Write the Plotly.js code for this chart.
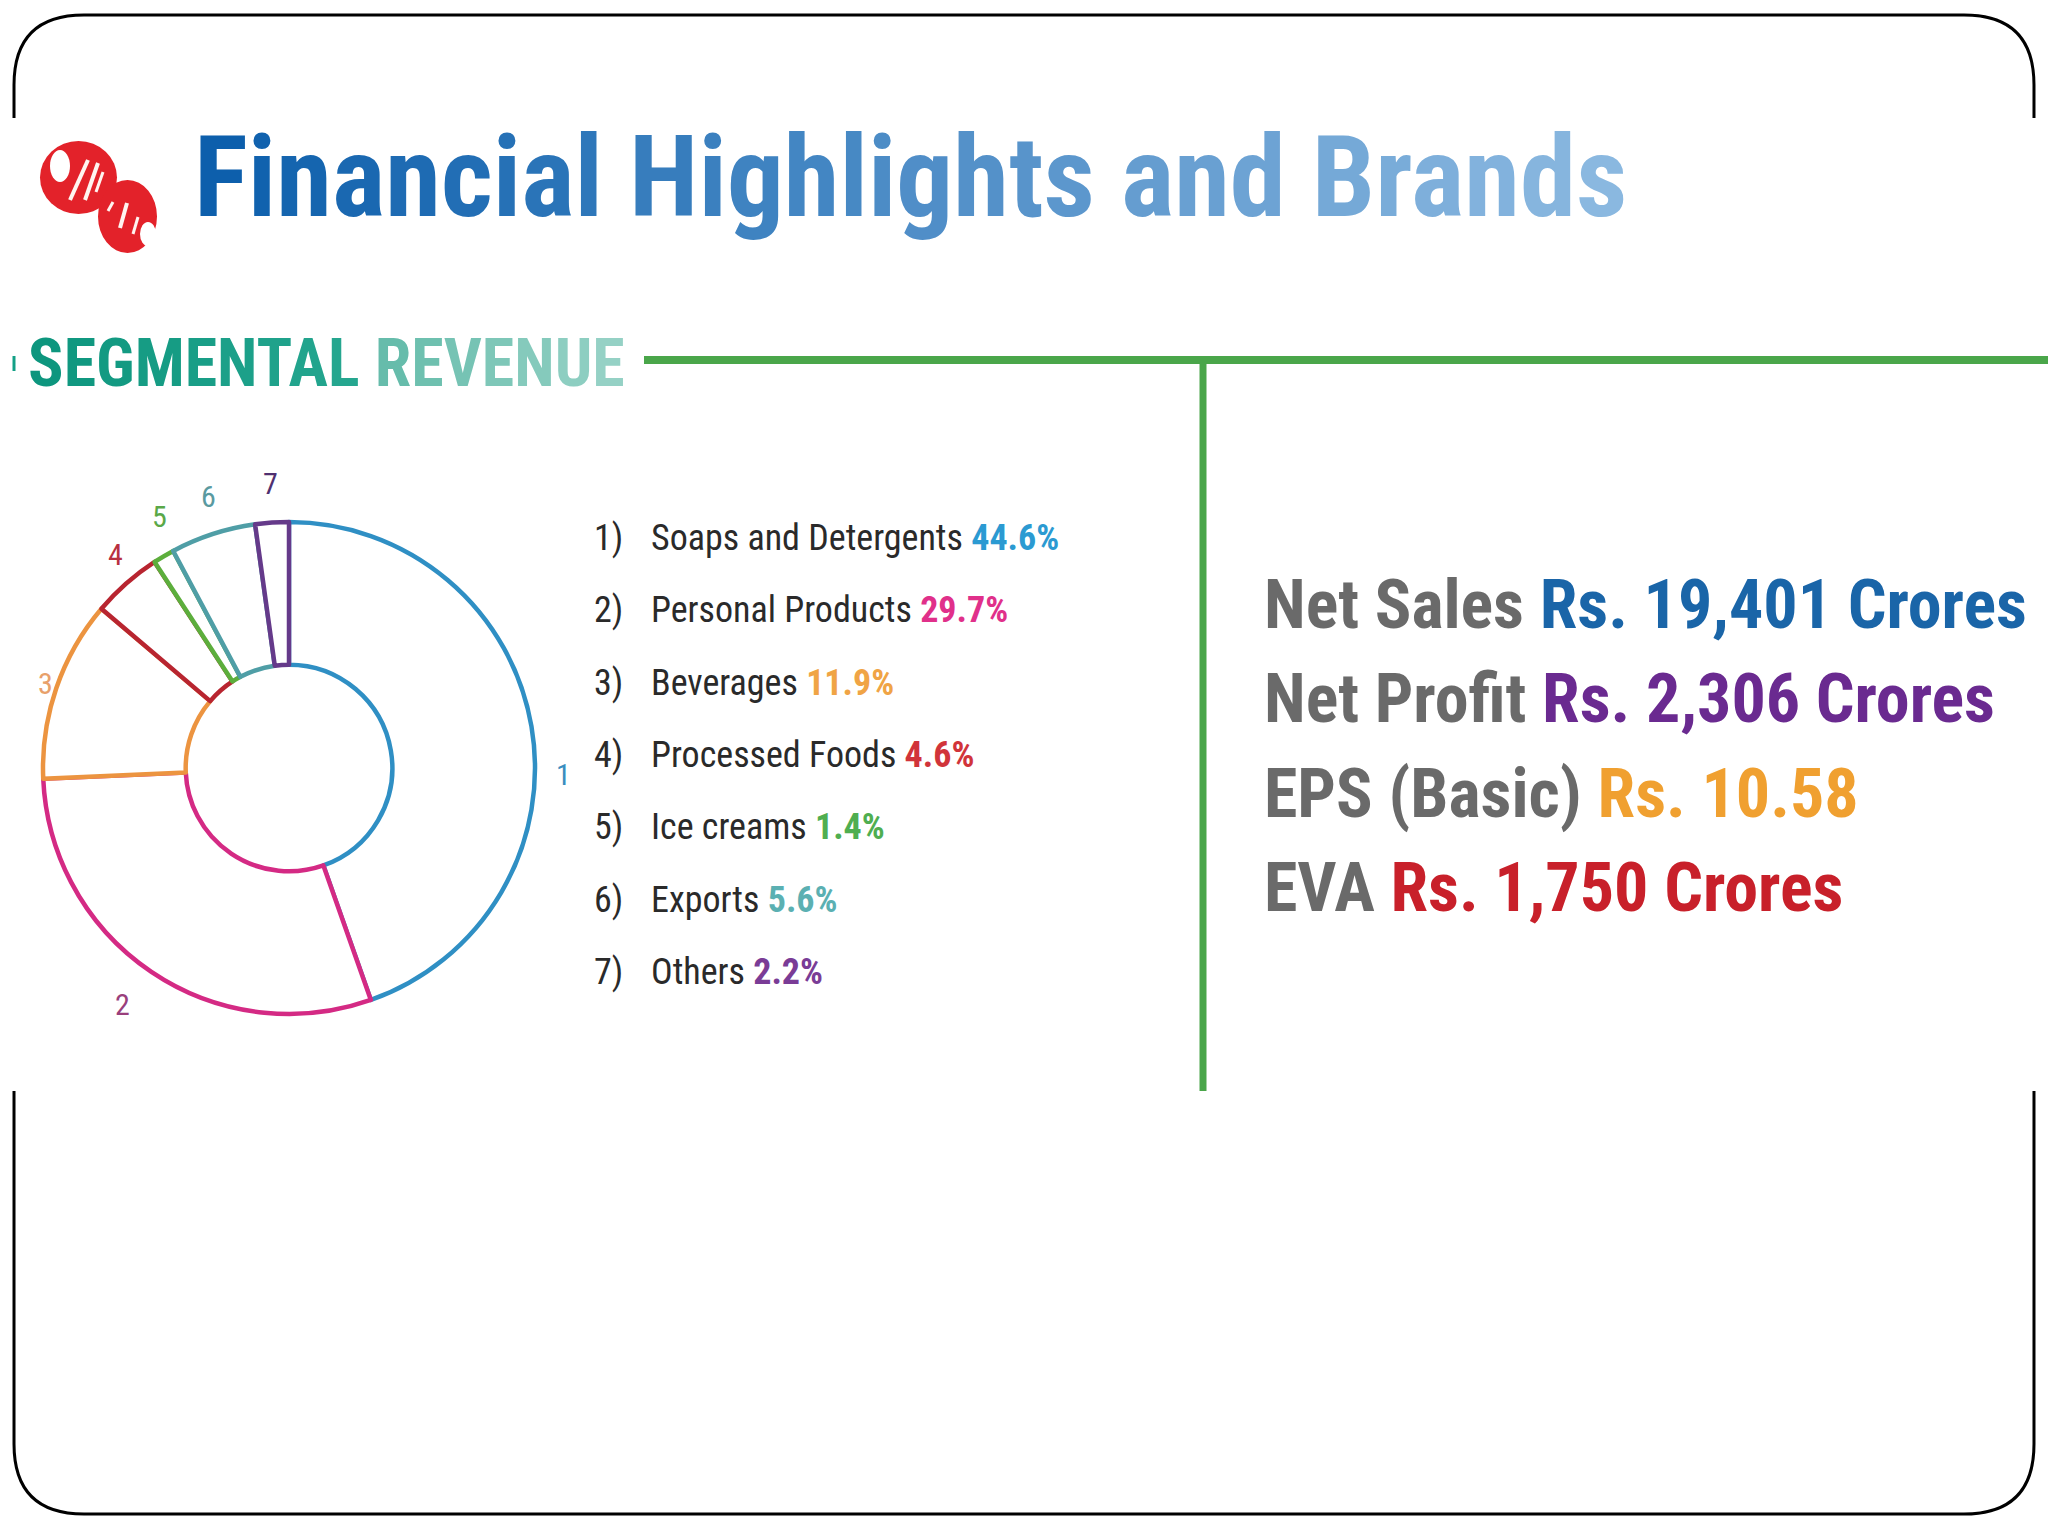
<!DOCTYPE html>
<html>
<head>
<meta charset="utf-8">
<script src="https://cdn.plot.ly/plotly-3.0.1.min.js"></script>
<style>html,body{margin:0;padding:0;background:#fff;}#chart{width:2048px;height:1536px;}</style>
</head>
<body>
<div id="chart"></div>
<script>
// ---------------- data ----------------
const segNumbers = ['1', '2', '3', '4', '5', '6', '7'];
const segNames = ['Soaps and Detergents', 'Personal Products', 'Beverages', 'Processed Foods', 'Ice creams', 'Exports', 'Others'];
const segShares = [44.6, 29.7, 11.9, 4.6, 1.4, 5.6, 2.2];
const kpiLabels = ['Net Sales', 'Net Profit', 'EPS (Basic)', 'EVA'];
const kpiValues = ['Rs. 19,401 Crores', 'Rs. 2,306 Crores', 'Rs. 10.58', 'Rs. 1,750 Crores'];
const titleText = 'Financial Highlights and Brands';
const sectionWords = ['SEGMENTAL', 'REVENUE'];

// ---------------- styles ----------------
const W = 2048, H = 1536;
const X = p => p / W, Y = p => 1 - p / H;
const COND = '"Roboto Condensed", "Open Sans Condensed", "DejaVu Sans Condensed", sans-serif';
const lineColors = ['#2f8fc4', '#d42a84', '#ec9440', '#b82530', '#5cae3c', '#4f9ea6', '#653a8a'];
const numColors = ['#3a8dc0', '#9a3f7c', '#e8a06a', '#b83040', '#5aa848', '#5a9aa0', '#503070'];
const pctColors = ['#2b9ad2', '#e0308a', '#f0a445', '#d1343a', '#4fae50', '#5bb0b2', '#7a3c96'];
const kpiColors = ['#1a65a8', '#6a2a90', '#f0a030', '#c8202a'];
const labelNudge = [[16, -55], [-20, 0], [4, -8], [0, 0], [4, 6], [0, 0], [0, 0]]; // px shifts for number labels

// donut geometry (pixels)
const cx = 289, cy = 768, R = 246;

const pie = {
  type: 'pie',
  values: segShares,
  labels: segNames,
  sort: false,
  direction: 'clockwise',
  rotation: 0,
  hole: 0.42,
  textinfo: 'none',
  hoverinfo: 'label+percent',
  showlegend: false,
  marker: {colors: segShares.map(() => '#ffffff'), line: {color: lineColors, width: 4.5}},
  domain: {x: [X(cx - R), X(cx + R)], y: [Y(cy + R), Y(cy - R)]}
};

// ---------------- annotations ----------------
const annotations = [];
function lerpColor(a, b, t) {
  const pa = [1, 3, 5].map(i => parseInt(a.substr(i, 2), 16));
  const pb = [1, 3, 5].map(i => parseInt(b.substr(i, 2), 16));
  return 'rgb(' + pa.map((v, i) => Math.round(v + (pb[i] - v) * t)).join(',') + ')';
}
function gradientHtml(str, c0, c1) {
  let s = '';
  for (let i = 0; i < str.length; i++) {
    const t = str.length > 1 ? i / (str.length - 1) : 0;
    s += '<span style="color:' + lerpColor(c0, c1, t) + '">' + str[i] + '</span>';
  }
  return s;
}
annotations.push({text: '<b>' + gradientHtml(titleText, '#0d5fac', '#8ab8e0') + '</b>', x: X(192), y: Y(177),
  xref: 'paper', yref: 'paper', xanchor: 'left', yanchor: 'middle', showarrow: false,
  font: {family: COND, size: 113}});

annotations.push({
  text: '<b>' + gradientHtml(sectionWords[0], '#0d967e', '#25a68f') + ' ' + gradientHtml(sectionWords[1], '#66bcab', '#95d1c5') + '</b>',
  x: X(26), y: Y(364), xref: 'paper', yref: 'paper', xanchor: 'left', yanchor: 'middle', showarrow: false,
  font: {family: COND, size: 66}
});

// donut number labels at slice mid-angles
const total = segShares.reduce((a, b) => a + b, 0);
let cum = 0;
const RlabX = 262, RlabY = 285;
segShares.forEach((v, i) => {
  const a = (cum + v / 2) / total * 2 * Math.PI;
  cum += v;
  annotations.push({text: segNumbers[i], x: X(cx + RlabX * Math.sin(a)), y: Y(cy - RlabY * Math.cos(a)),
    xshift: labelNudge[i][0], yshift: labelNudge[i][1],
    xref: 'paper', yref: 'paper', xanchor: 'center', yanchor: 'middle', showarrow: false,
    font: {family: COND, size: 30, color: numColors[i]}});
});

// legend list
const rowY0 = 538, rowStep = 72.3;
segNames.forEach((n, i) => {
  const y = rowY0 + i * rowStep;
  annotations.push({text: segNumbers[i] + ')', x: X(592), y: Y(y), xref: 'paper', yref: 'paper',
    xanchor: 'left', yanchor: 'middle', showarrow: false, font: {family: COND, size: 36, color: '#2a2a2a'}});
  annotations.push({text: n + ' <b><span style="color:' + pctColors[i] + '">' + segShares[i].toFixed(1) + '%</span></b>',
    x: X(649), y: Y(y), xref: 'paper', yref: 'paper', xanchor: 'left', yanchor: 'middle', showarrow: false,
    font: {family: COND, size: 36, color: '#2a2a2a'}});
});

// KPI block
const kpiY0 = 605, kpiStep = 94.3;
kpiLabels.forEach((l, i) => {
  annotations.push({text: '<b><span style="color:#6a6a6a">' + l + '</span> <span style="color:' + kpiColors[i] + '">' + kpiValues[i] + '</span></b>',
    x: X(1262), y: Y(kpiY0 + i * kpiStep), xref: 'paper', yref: 'paper', xanchor: 'left', yanchor: 'middle', showarrow: false,
    font: {family: COND, size: 68}});
});

// ---------------- shapes ----------------
function pathStr(cmds) {
  return cmds.map(c => c[0] + ' ' + c.slice(1).reduce((s, v, j) => s + (j % 2 === 0 ? X(v).toFixed(5) + ',' : Y(v).toFixed(5) + ' '), '')).join(' ');
}
const bx0 = 14, bx1 = 2034, by0 = 15, by1 = 1514, br = 70;
const logoRed = '#e3222a', stripe = '#fff4f0';
function seg(x0, y0, x1, y1, color, w) {
  return {type: 'line', xref: 'paper', yref: 'paper', x0: X(x0), x1: X(x1), y0: Y(y0), y1: Y(y1), line: {color: color, width: w}};
}
function oval(x0, y0, x1, y1, color) {
  return {type: 'circle', xref: 'paper', yref: 'paper', x0: X(x0), x1: X(x1), y0: Y(y1), y1: Y(y0), fillcolor: color, line: {width: 0}};
}
const shapes = [
  {type: 'path', xref: 'paper', yref: 'paper', path: pathStr([
    ['M', bx0 + br, by0], ['L', bx1 - br, by0], ['Q', bx1, by0, bx1, by0 + br], ['L', bx1, by1 - br],
    ['Q', bx1, by1, bx1 - br, by1], ['L', bx0 + br, by1], ['Q', bx0, by1, bx0, by1 - br], ['L', bx0, by0 + br],
    ['Q', bx0, by0, bx0 + br, by0]]), line: {color: '#000000', width: 3}, fillcolor: 'rgba(0,0,0,0)', layer: 'below'},
  {type: 'rect', xref: 'paper', yref: 'paper', x0: 0, x1: 1, y0: Y(1091), y1: Y(118), fillcolor: '#ffffff', line: {width: 0}, layer: 'below'},
  // green rules
  seg(644, 360, W, 360, '#4aa64a', 8),
  seg(1203, 357, 1203, 1091, '#4aa64a', 7),
  // small teal tick
  seg(14, 356, 14, 371, '#13a086', 3),
  // logo: two red lobes with notches and white stripes
  oval(40, 141, 117, 214, logoRed),
  oval(98, 180, 157, 253, logoRed),
  oval(50, 150, 70, 182, '#ffffff'),
  oval(140, 222, 156, 246, '#ffffff'),
  seg(70, 200, 88, 160, stripe, 4),
  seg(85, 200, 98, 163, stripe, 4),
  seg(96, 192, 103, 172, stripe, 3),
  seg(108, 211, 113, 202, stripe, 3),
  seg(120, 228, 127, 203, stripe, 4),
  seg(133, 234, 138, 217, stripe, 3)
];

const layout = {
  width: W, height: H,
  margin: {l: 0, r: 0, t: 0, b: 0},
  paper_bgcolor: '#ffffff', plot_bgcolor: '#ffffff',
  showlegend: false,
  shapes: shapes,
  annotations: annotations
};

Plotly.newPlot('chart', [pie], layout, {displayModeBar: false, staticPlot: true});
</script>
</body>
</html>
